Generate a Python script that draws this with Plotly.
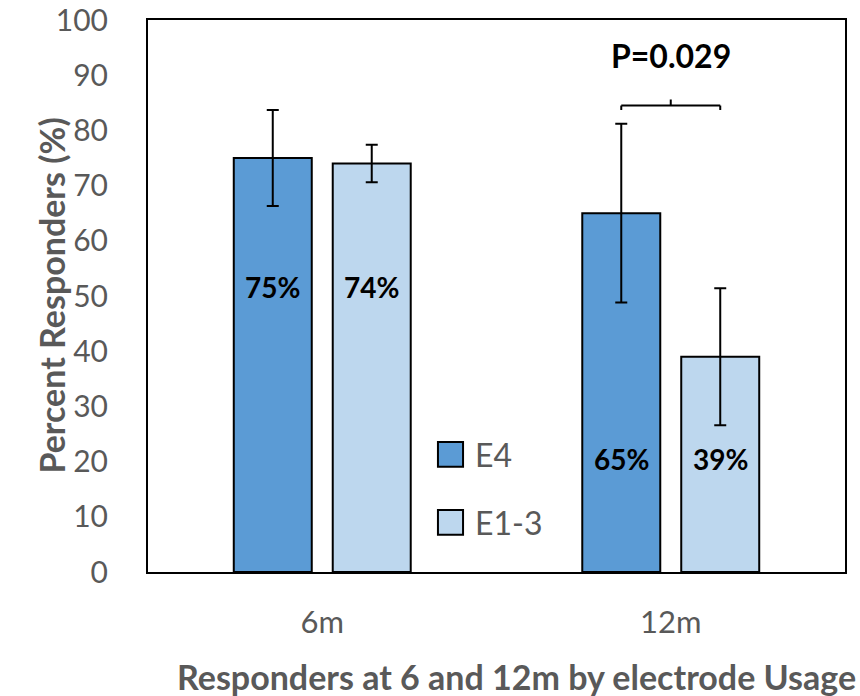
import plotly.graph_objects as go

# Responder rates (%) by follow-up time and electrode usage group
timepoints = ["6m", "12m"]
series_names = ["E4", "E1-3"]
e4_pct = [75, 65]
e13_pct = [74, 39]
e4_err = [8.7, 16.2]
e13_err = [3.4, 12.4]
p_value_text = "P=0.029"

FONT = "Lato"
GRAY = "#595959"
COLORS = ["#5B9BD5", "#BDD7EE"]
BARGAP = 0.432
BARGROUPGAP = 0.212

fig = go.Figure()
for name, vals, errs, color in zip(series_names, [e4_pct, e13_pct], [e4_err, e13_err], COLORS):
    fig.add_trace(go.Bar(
        name=name, x=timepoints, y=vals,
        marker=dict(color=color, line=dict(color="black", width=2)),
        error_y=dict(type="data", array=errs, visible=True, color="black",
                     thickness=2, width=6),
        showlegend=False,
    ))

# centre of each bar within its group, in category units
slot = (1 - BARGAP) / len(series_names)
offsets = [(k - (len(series_names) - 1) / 2) * slot for k in range(len(series_names))]

# value labels inside the bars
label_heights = [51.6, 20.5]
for vals, off in zip([e4_pct, e13_pct], offsets):
    for i, v in enumerate(vals):
        fig.add_annotation(x=i + off, y=label_heights[i], xref="x", yref="y",
                           text=f"<b>{v:.0f}%</b>", showarrow=False,
                           font=dict(family=FONT, size=28, color="black"))

# significance bracket between the 12m bars
x0, x1 = 1 + offsets[0], 1 + offsets[1]
xm = (x0 + x1) / 2
for sx0, sy0, sx1, sy1 in [(x0, 84.5, x1, 84.5), (x0, 84.5, x0, 83.7),
                           (x1, 84.5, x1, 83.7), (xm, 84.5, xm, 85.6)]:
    fig.add_shape(type="line", xref="x", yref="y", x0=sx0, y0=sy0, x1=sx1, y1=sy1,
                  line=dict(color="black", width=2))
fig.add_annotation(x=xm, y=93.5, xref="x", yref="y", text=f"<b>{p_value_text}</b>",
                   showarrow=False, font=dict(family=FONT, size=32, color="black"))

# legend drawn as boxes with labels
legend_y = [21.3, 9.0]
for name, color, ly in zip(series_names, COLORS, legend_y):
    fig.add_shape(type="rect", xref="paper", yref="y",
                  x0=0.416, x1=0.452, y0=ly - 2.25, y1=ly + 2.25,
                  fillcolor=color, line=dict(color="black", width=2))
    fig.add_annotation(x=0.466, y=ly, xref="paper", yref="y", text=name,
                       xanchor="left", showarrow=False,
                       font=dict(family=FONT, size=32, color=GRAY))

# axis titles
fig.add_annotation(x=-0.172, y=0.5, xref="paper", yref="paper",
                   text="<b>Percent Responders (%)</b>", textangle=-90,
                   showarrow=False, font=dict(family=FONT, size=34, color=GRAY))
fig.add_annotation(x=0.529, y=-0.19, xref="paper", yref="paper",
                   text="<b>Responders at 6 and 12m by electrode Usage</b>",
                   showarrow=False, yanchor="middle",
                   font=dict(family=FONT, size=34, color=GRAY))

fig.update_layout(
    width=860, height=696,
    margin=dict(l=148, r=15, t=20, b=124, autoexpand=False),
    paper_bgcolor="white", plot_bgcolor="white",
    barmode="group", bargap=BARGAP, bargroupgap=BARGROUPGAP,
    font=dict(family=FONT, color=GRAY),
)
fig.update_xaxes(showgrid=False, showline=True, linecolor="black", linewidth=2,
                 mirror=True, ticks="", ticklabelstandoff=22,
                 tickfont=dict(family=FONT, size=31, color=GRAY))
fig.update_yaxes(range=[0, 100], dtick=10, showgrid=False, showline=True,
                 linecolor="black", linewidth=2, mirror=True, ticks="",
                 ticklabelstandoff=32, zeroline=False,
                 tickfont=dict(family=FONT, size=30, color=GRAY))

fig.write_html("out.html")
